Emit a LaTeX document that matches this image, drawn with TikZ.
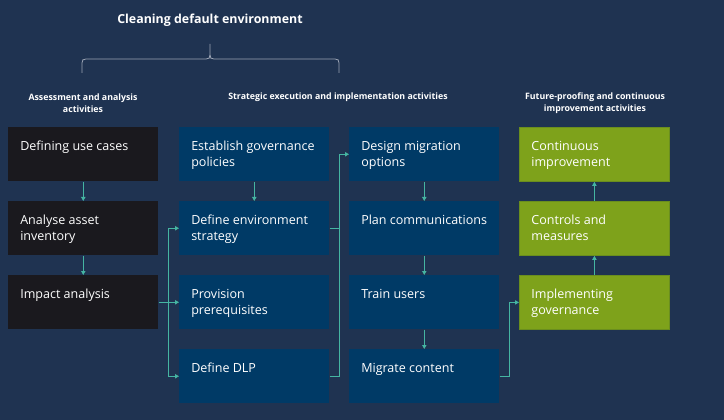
\documentclass[tikz,border=0pt]{standalone}
\usepackage{fontspec}
\setmainfont{Open Sans}
\usetikzlibrary{arrows.meta}
\definecolor{bgc}{HTML}{1F3351}
\definecolor{darkbox}{HTML}{1A191E}
\definecolor{bluebox}{HTML}{003A66}
\definecolor{greenbox}{HTML}{7EA21B}
\definecolor{greenedge}{HTML}{6A8E1E}
\definecolor{teal}{HTML}{45B5A2}
\definecolor{bracec}{HTML}{9AA3B3}
\newcommand{\boxtext}[1]{\parbox[c][22.5pt][t]{94.5pt}{\fontsize{9.4pt}{12pt}\selectfont\vspace*{1.2pt}#1}}
\tikzset{
  basebox/.style={anchor=north west, inner xsep=9pt, inner ysep=9pt, text=white, rectangle},
  blackbox/.style={basebox, fill=darkbox},
  bluebx/.style={basebox, fill=bluebox},
  greenbx/.style={basebox, fill=greenbox, draw=greenedge, line width=0.6pt},
  conn/.style={draw=teal, line width=0.7pt, -{Triangle[length=3pt,width=3.2pt]}},
  link/.style={draw=teal, line width=0.7pt},
  header/.style={text=white, font=\bfseries\fontsize{6.6pt}{8.6pt}\selectfont, align=center},
}
\begin{document}
\begin{tikzpicture}[x=0.75pt,y=-0.75pt]
\fill[bgc] (0,0) rectangle (724,420);
\useasboundingbox (0,0) rectangle (724,420);

% title and brace
\node[text=white, font=\bfseries\fontsize{9.3pt}{11pt}\selectfont] (title) at (210,20) {Cleaning default environment};
\coordinate (bl) at (82,73);
\coordinate (br) at (339,73);
\coordinate (bt) at (210,44);
\draw[bracec, line width=0.6pt] (bl) -- ++(0,-10) .. controls +(0,-3) and +(-3,0) .. ++(4,-4) -- (206,59) .. controls (209,59) and (210,58) .. (210,55) -- (bt);
\draw[bracec, line width=0.6pt] (br) -- ++(0,-10) .. controls +(0,-3) and +(3,0) .. ++(-4,-4) -- (214,59) .. controls (211,59) and (210,58) .. (210,55);

% headers
\node[header] (h1) at (83,103) {Assessment and analysis\\activities};
\node[header] (h2) at (338,97) {Strategic execution and implementation activities};
\node[header] (h3) at (595,103) {Future-proofing and continuous\\improvement activities};

% column 1
\node[blackbox] (a1) at (8,127) {\boxtext{Defining use cases}};
\node[blackbox] (a2) at (8,201) {\boxtext{Analyse asset\\inventory}};
\node[blackbox] (a3) at (8,275) {\boxtext{Impact analysis}};

% column 2
\node[bluebx] (b1) at (179,127) {\boxtext{Establish governance\\policies}};
\node[bluebx] (b2) at (179,201) {\boxtext{Define environment\\strategy}};
\node[bluebx] (b3) at (179,275) {\boxtext{Provision\\prerequisites}};
\node[bluebx] (b4) at (179,349) {\boxtext{Define DLP}};

% column 3
\node[bluebx] (c1) at (349,127) {\boxtext{Design migration\\options}};
\node[bluebx] (c2) at (349,201) {\boxtext{Plan communications}};
\node[bluebx] (c3) at (349,275) {\boxtext{Train users}};
\node[bluebx] (c4) at (349,349) {\boxtext{Migrate content}};

% column 4
\node[greenbx] (d1) at (519,127) {\boxtext{Continuous\\improvement}};
\node[greenbx] (d2) at (519,201) {\boxtext{Controls and\\measures}};
\node[greenbx] (d3) at (519,275) {\boxtext{Implementing\\governance}};

% connectors
\draw[conn] (a1.south) -- (a2.north);
\draw[conn] (a2.south) -- (a3.north);
\draw[link] (a3.east) -- ++(10,0) coordinate (t1);
\draw[conn] (t1) |- (b2.west);
\draw[conn] (t1) -- (b3.west);
\draw[conn] (t1) |- (b4.west);
\draw[conn] (b1.south) -- (b2.north);
\draw[link] (b2.east) -- ++(10,0) coordinate (t2);
\draw[conn] (t2) |- (c1.west);
\draw[link] (b4.east) -| (t2);
\draw[conn] (c1.south) -- (c2.north);
\draw[conn] (c2.south) -- (c3.north);
\draw[conn] (c3.south) -- (c4.north);
\draw[conn] (c4.east) -- ++(10,0) |- (d3.west);
\draw[conn] (d3.north) -- (d2.south);
\draw[conn] (d2.north) -- (d1.south);
\end{tikzpicture}
\end{document}
